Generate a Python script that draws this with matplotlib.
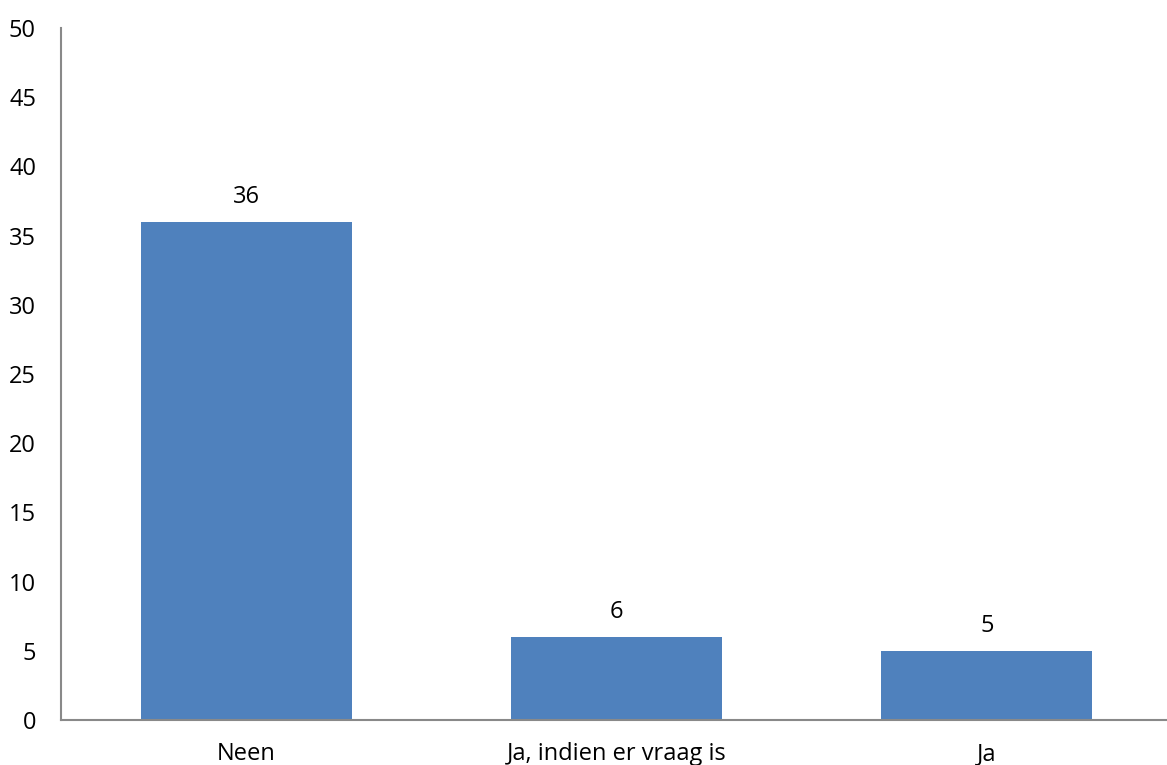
import matplotlib
matplotlib.use("Agg")
import matplotlib.pyplot as plt

categories = ["Neen", "Ja, indien er vraag is", "Ja"]
values = [36, 6, 5]
yticks = [0, 5, 10, 15, 20, 25, 30, 35, 40, 45, 50]

plt.rcParams['font.family'] = ['Open Sans', 'DejaVu Sans']

W, H = 1167, 765
fig = plt.figure(figsize=(W/100, H/100), dpi=100)
ax = fig.add_axes([61/W, (H-720)/H, (1172-61)/W, (720-28)/H])

x = range(len(categories))
bars = ax.bar(x, values, width=0.57, color="#4F81BD")
for xi, v in zip(x, values):
    ax.annotate(str(v), (xi, v), xytext=(0, 9), textcoords="offset points",
                ha="center", va="bottom", fontsize=17)

ax.set_xlim(-0.5, 2.5)
ax.set_ylim(0, 50)
ax.set_yticks(yticks)
ax.set_xticks(list(x))
ax.set_xticklabels(categories, fontsize=17)
ax.tick_params(axis='y', length=0, pad=18, labelsize=17)
ax.tick_params(axis='x', length=0, pad=16)
for lbl in ax.get_yticklabels():
    lbl.set_horizontalalignment('right')
for s in ['top', 'right']:
    ax.spines[s].set_visible(False)
for s in ['left', 'bottom']:
    ax.spines[s].set_color('#898989')
    ax.spines[s].set_linewidth(1.5)

fig.savefig("out.png", dpi=100)
